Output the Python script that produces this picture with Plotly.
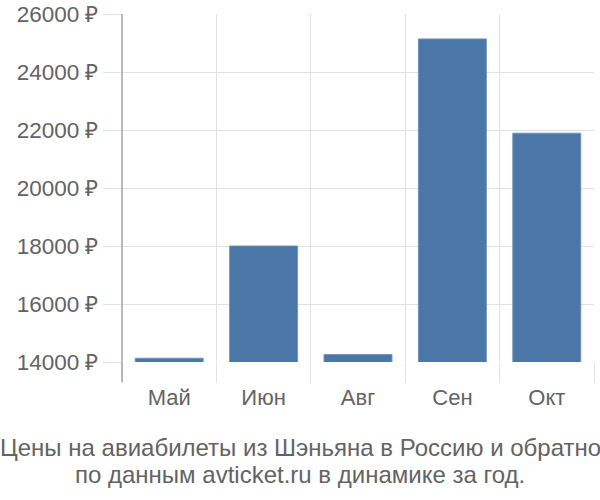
import plotly.graph_objects as go

months = ["Май", "Июн", "Авг", "Сен", "Окт"]
prices = [14130, 18000, 14260, 25140, 21890]
y_ticks = [14000, 16000, 18000, 20000, 22000, 24000, 26000]
y_labels = [f"{v} ₽" for v in y_ticks]

title_lines = [
    "Цены на авиабилеты из Шэньяна в Россию и обратно",
    "по данным avticket.ru в динамике за год.",
]

grid = "#e2e2e2"
text_color = "#636363"

fig = go.Figure()
fig.add_trace(go.Bar(
    x=months,
    y=prices,
    width=0.72,
    marker=dict(color="#4a76a8", line=dict(color="#7294bd", width=1)),
))

fig.update_layout(
    width=600,
    height=500,
    margin=dict(l=122, r=6, t=14, b=138),
    paper_bgcolor="white",
    plot_bgcolor="white",
    showlegend=False,
    font=dict(family="Liberation Sans, Arial, sans-serif", size=22, color=text_color),
    xaxis=dict(
        type="category",
        range=[-0.5, 4.5],
        automargin=False,
        tickson="boundaries",
        showgrid=True,
        gridcolor=grid,
        gridwidth=1,
        ticks="outside",
        ticklen=20,
        tickcolor=grid,
        tickwidth=1,
        ticklabelstandoff=20,
        showline=False,
        zeroline=False,
        tickfont=dict(size=22, color=text_color),
    ),
    yaxis=dict(
        range=[14000, 26000],
        automargin=False,
        tickvals=y_ticks,
        ticktext=y_labels,
        ticklabeloverflow="allow",
        showgrid=True,
        gridcolor=grid,
        gridwidth=1,
        ticks="outside",
        ticklen=18,
        tickcolor=grid,
        showline=False,
        zeroline=False,
        tickfont=dict(size=22.5, color=text_color),
    ),
    annotations=[
        dict(
            text=line,
            xref="paper", yref="paper",
            x=(300 - 122) / 472, y=yy,
            xanchor="center", yanchor="middle",
            showarrow=False,
            font=dict(size=24, color=text_color),
        )
        for line, yy in zip(title_lines, [-0.247, -0.322])
    ],
    shapes=[dict(
        type="line",
        xref="x domain", yref="paper",
        x0=0, x1=0, y0=-0.0575, y1=1,
        line=dict(color="#a0a0a0", width=1.5),
    )],
)

# drop the default 8px page margin so the chart sits at the window corner
fig.write_html(
    "out.html",
    config={"displayModeBar": False},
    post_script="document.body.style.margin = '0';",
)
